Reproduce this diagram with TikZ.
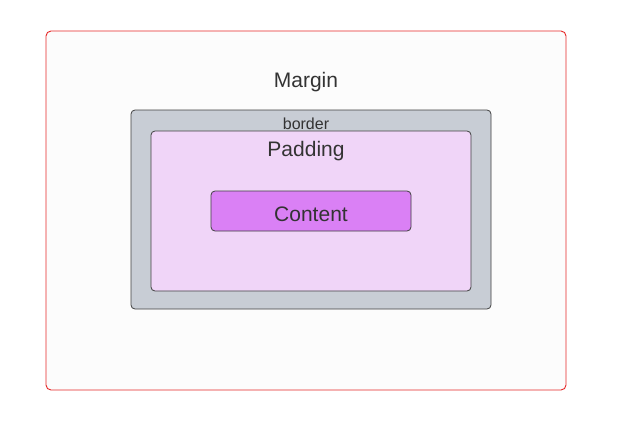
\documentclass[tikz,border=0pt]{standalone}
\usepackage{fontspec}
\setmainfont{Liberation Sans}
\begin{document}
\begin{tikzpicture}[x=1pt,y=-1pt,
  lbl/.style={text=black!80, inner sep=0pt, anchor=base},
  big/.style={font=\fontsize{21}{25}\selectfont},
  boxline/.style={draw=black!75, line width=0.8pt, rounded corners=4pt}]
\useasboundingbox (0,0) rectangle (642,423);
\fill[white] (0,0) rectangle (642,423);
\draw[draw={rgb,255:red,230;green,40;blue,40}, fill=black!1, line width=0.9pt, rounded corners=5pt] (46,31) rectangle (566,390);
\node[lbl, big] (margin) at (306,87) {Margin};
\draw[boxline, fill={rgb,255:red,200;green,205;blue,213}] (131,110) rectangle (491,309);
\node[lbl, font=\fontsize{16}{19}\selectfont] (border) at (306,129) {border};
\draw[boxline, fill={rgb,255:red,240;green,213;blue,248}] (151,131) rectangle (471,291);
\node[lbl, big] (padding) at (306,156) {Padding};
\draw[boxline, fill={rgb,255:red,218;green,128;blue,245}] (211,191) rectangle (411,231);
\node[lbl, big] (content) at (311,221) {Content};
\end{tikzpicture}
\end{document}
